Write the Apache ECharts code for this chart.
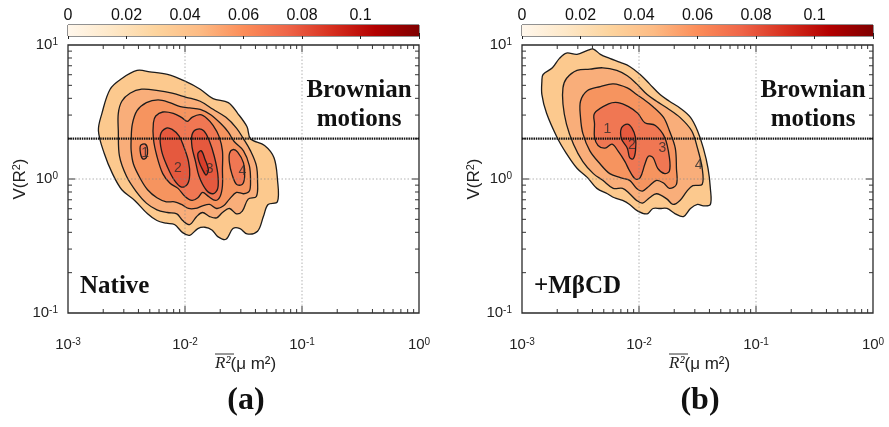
<!DOCTYPE html>
<html>
<head>
<meta charset="utf-8">
<script src="https://cdn.jsdelivr.net/npm/echarts@6/dist/echarts.min.js"></script>
<style>
  html, body { margin: 0; background: #fff; }
  #chart { width: 889px; height: 427px; }
</style>
</head>
<body>
<div id="chart"></div>
<script>
// contour outlines, points are [log10(R2 mean), log10(V(R2))]
// (a) Native
const nativeL1 = [[-2.74,0.36],[-2.71,0.49],[-2.64,0.67],[-2.54,0.75],[-2.41,0.81],[-2.30,0.80],[-2.15,0.78],[-2.00,0.73],[-1.87,0.67],[-1.76,0.60],[-1.63,0.57],[-1.55,0.49],[-1.47,0.39],[-1.44,0.30],[-1.32,0.25],[-1.24,0.16],[-1.21,0.00],[-1.21,-0.17],[-1.29,-0.19],[-1.33,-0.28],[-1.38,-0.39],[-1.47,-0.41],[-1.53,-0.37],[-1.59,-0.37],[-1.65,-0.45],[-1.72,-0.43],[-1.77,-0.38],[-1.83,-0.36],[-1.89,-0.37],[-1.96,-0.42],[-2.02,-0.40],[-2.09,-0.34],[-2.16,-0.33],[-2.24,-0.31],[-2.32,-0.26],[-2.43,-0.16],[-2.54,-0.08],[-2.62,0.04],[-2.69,0.19]];
const nativeL2 = [[-2.57,0.36],[-2.57,0.49],[-2.54,0.58],[-2.47,0.64],[-2.37,0.67],[-2.23,0.66],[-2.11,0.64],[-1.99,0.61],[-1.87,0.58],[-1.76,0.52],[-1.65,0.46],[-1.56,0.38],[-1.50,0.30],[-1.44,0.21],[-1.39,0.10],[-1.38,-0.01],[-1.39,-0.13],[-1.46,-0.15],[-1.51,-0.24],[-1.56,-0.26],[-1.62,-0.22],[-1.68,-0.25],[-1.73,-0.29],[-1.79,-0.28],[-1.85,-0.25],[-1.90,-0.28],[-1.96,-0.34],[-2.02,-0.31],[-2.07,-0.26],[-2.15,-0.25],[-2.24,-0.23],[-2.33,-0.18],[-2.42,-0.09],[-2.50,0.02],[-2.56,0.17]];
const nativeL3 = [[-2.46,0.30],[-2.45,0.41],[-2.41,0.51],[-2.33,0.57],[-2.23,0.59],[-2.13,0.57],[-2.04,0.54],[-1.96,0.53],[-1.87,0.52],[-1.78,0.48],[-1.69,0.41],[-1.63,0.35],[-1.58,0.28],[-1.50,0.21],[-1.45,0.10],[-1.44,-0.01],[-1.45,-0.09],[-1.50,-0.11],[-1.56,-0.10],[-1.62,-0.15],[-1.67,-0.20],[-1.73,-0.22],[-1.79,-0.19],[-1.85,-0.20],[-1.91,-0.22],[-1.97,-0.22],[-2.03,-0.19],[-2.09,-0.17],[-2.16,-0.17],[-2.24,-0.14],[-2.32,-0.08],[-2.38,0.00],[-2.44,0.11],[-2.46,0.21]];
const nativeL4 = [[-2.27,0.30],[-2.27,0.42],[-2.25,0.47],[-2.19,0.50],[-2.10,0.49],[-2.03,0.46],[-1.98,0.43],[-1.94,0.46],[-1.87,0.48],[-1.81,0.45],[-1.76,0.40],[-1.71,0.32],[-1.68,0.21],[-1.68,0.07],[-1.68,-0.05],[-1.70,-0.13],[-1.74,-0.16],[-1.80,-0.13],[-1.85,-0.10],[-1.89,-0.14],[-1.94,-0.16],[-2.00,-0.13],[-2.06,-0.07],[-2.13,-0.03],[-2.19,0.04],[-2.24,0.17]];
const nativeIsland1 = [[-2.38,0.25],[-2.34,0.26],[-2.32,0.22],[-2.33,0.16],[-2.36,0.15],[-2.38,0.19]];
const nativeIsland4 = [[-1.62,0.19],[-1.59,0.22],[-1.55,0.20],[-1.50,0.12],[-1.49,0.02],[-1.51,-0.04],[-1.56,-0.04],[-1.60,0.04],[-1.62,0.12]];
const nativePeak2 = [[-2.21,0.33],[-2.16,0.38],[-2.11,0.37],[-2.05,0.32],[-2.01,0.24],[-1.97,0.13],[-1.96,0.03],[-1.98,-0.04],[-2.03,-0.06],[-2.09,-0.01],[-2.15,0.09],[-2.20,0.21]];
const nativePeak3 = [[-1.94,0.33],[-1.90,0.37],[-1.84,0.36],[-1.79,0.28],[-1.75,0.17],[-1.72,0.04],[-1.72,-0.07],[-1.76,-0.11],[-1.82,-0.08],[-1.88,0.02],[-1.91,0.13],[-1.94,0.24]];
const nativeCore3 = [[-1.89,0.19],[-1.86,0.21],[-1.83,0.15],[-1.80,0.07],[-1.82,0.03],[-1.85,0.07],[-1.88,0.13]];
const nativeLabels = [['1',-2.34,0.19],['2',-2.06,0.08],['3',-1.79,0.07],['4',-1.51,0.06]];

// (b) +MβCD
const mbcdL1 = [[-2.83,0.73],[-2.82,0.78],[-2.74,0.83],[-2.68,0.90],[-2.62,0.94],[-2.53,0.93],[-2.44,0.96],[-2.39,0.97],[-2.33,0.93],[-2.25,0.90],[-2.16,0.87],[-2.08,0.84],[-1.99,0.78],[-1.91,0.71],[-1.82,0.63],[-1.74,0.58],[-1.65,0.53],[-1.56,0.46],[-1.50,0.36],[-1.45,0.23],[-1.41,0.08],[-1.39,-0.07],[-1.39,-0.19],[-1.45,-0.20],[-1.50,-0.19],[-1.56,-0.22],[-1.62,-0.28],[-1.69,-0.26],[-1.76,-0.22],[-1.82,-0.22],[-1.88,-0.22],[-1.93,-0.26],[-2.01,-0.24],[-2.08,-0.19],[-2.14,-0.16],[-2.21,-0.14],[-2.27,-0.11],[-2.36,-0.07],[-2.44,0.01],[-2.53,0.08],[-2.62,0.19],[-2.70,0.31],[-2.79,0.49],[-2.83,0.63]];
const mbcdL2 = [[-2.65,0.68],[-2.62,0.75],[-2.53,0.81],[-2.42,0.82],[-2.31,0.83],[-2.19,0.81],[-2.10,0.77],[-2.02,0.71],[-1.93,0.63],[-1.85,0.58],[-1.76,0.53],[-1.65,0.46],[-1.55,0.36],[-1.50,0.23],[-1.46,0.08],[-1.46,-0.04],[-1.54,-0.05],[-1.59,-0.09],[-1.65,-0.16],[-1.71,-0.19],[-1.76,-0.15],[-1.85,-0.11],[-1.91,-0.14],[-1.97,-0.18],[-2.02,-0.16],[-2.08,-0.11],[-2.14,-0.07],[-2.22,-0.07],[-2.31,-0.01],[-2.39,0.04],[-2.48,0.13],[-2.56,0.26],[-2.62,0.41],[-2.65,0.56]];
const mbcdL3 = [[-2.50,0.58],[-2.44,0.66],[-2.33,0.69],[-2.22,0.71],[-2.10,0.68],[-2.02,0.63],[-1.97,0.60],[-1.88,0.54],[-1.79,0.46],[-1.74,0.36],[-1.69,0.23],[-1.68,0.08],[-1.68,-0.04],[-1.74,-0.07],[-1.79,-0.03],[-1.85,-0.01],[-1.91,-0.05],[-1.97,-0.09],[-2.02,-0.07],[-2.08,-0.01],[-2.16,0.01],[-2.25,0.04],[-2.33,0.11],[-2.42,0.21],[-2.48,0.34],[-2.50,0.46]];
const mbcdL4 = [[-2.38,0.41],[-2.38,0.49],[-2.26,0.56],[-2.18,0.57],[-2.09,0.54],[-2.01,0.49],[-1.95,0.42],[-1.86,0.40],[-1.78,0.31],[-1.74,0.16],[-1.74,0.06],[-1.78,0.04],[-1.84,0.08],[-1.88,0.16],[-1.92,0.17],[-1.95,0.11],[-1.99,0.01],[-2.03,0.00],[-2.08,0.06],[-2.12,0.13],[-2.18,0.21],[-2.23,0.26],[-2.29,0.23],[-2.35,0.25],[-2.38,0.31]];
const mbcdL5 = [[-2.15,0.38],[-2.10,0.41],[-2.06,0.38],[-2.03,0.31],[-2.03,0.21],[-2.05,0.15],[-2.08,0.16],[-2.10,0.23],[-2.15,0.30]];
const mbcdLabels = [['1',-2.27,0.37],['2',-2.06,0.25],['3',-1.80,0.23],['4',-1.49,0.10]];

// axes
const xDecades = [-3, -2, -1, 0];
const yDecades = [-1, 0, 1];
const minorSteps = [2, 3, 4, 5, 6, 7, 8, 9];
const colorTicks = [0, 0.02, 0.04, 0.06, 0.08, 0.1];
const colorMax = 0.12;
const brownianV = 2;

// colours
const levelColors = ['#fcc98e', '#f9ae7a', '#f6945f', '#f07753', '#e5593e', '#d73e2b'];
const orRd = ['#fff7ec', '#fee8c8', '#fdd49e', '#fdbb84', '#fc8d59', '#ef6548', '#d7301f', '#b30000', '#7f0000'];

const nativeContours = [
  { level: 0, pts: nativeL1 },
  { level: 1, pts: nativeL2 },
  { level: 2, pts: nativeL3 },
  { level: 3, pts: nativeL4 },
  { level: 3, pts: nativeIsland1 },
  { level: 3, pts: nativeIsland4 },
  { level: 4, pts: nativePeak2 },
  { level: 4, pts: nativePeak3 },
  { level: 5, pts: nativeCore3 },
];
const mbcdContours = [
  { level: 0, pts: mbcdL1 },
  { level: 1, pts: mbcdL2 },
  { level: 2, pts: mbcdL3 },
  { level: 3, pts: mbcdL4 },
  { level: 4, pts: mbcdL5 },
];

// tick marks for log axes: [value, 0 = x / 1 = y, major]
const tickData = [];
xDecades.forEach((d) => {
  if (d > -3 && d < 0) tickData.push([d, 0, 1]);
  if (d < 0) minorSteps.forEach((m) => tickData.push([d + Math.log10(m), 0, 0]));
});
yDecades.forEach((d) => {
  if (d === 0) tickData.push([d, 1, 1]);
  if (d < 1) minorSteps.forEach((m) => tickData.push([d + Math.log10(m), 1, 0]));
});

const txt = '#222';
const sans = 'Liberation Sans';
const serif = 'Liberation Serif';
const pow10 = (v) => '{b|10}{s|' + v + '}';
const powRich = {
  b: { fontSize: 15, color: txt, fontFamily: sans, verticalAlign: 'bottom' },
  s: { fontSize: 10, color: txt, fontFamily: sans, verticalAlign: 'top' },
};

function contourSeries(contours, idx) {
  return {
    type: 'custom',
    xAxisIndex: idx,
    yAxisIndex: idx,
    silent: true,
    data: contours.map((c, i) => [c.pts[0][0], c.pts[0][1], i]),
    renderItem(params, api) {
      const c = contours[api.value(2)];
      return {
        type: 'polygon',
        shape: { points: c.pts.map((p) => api.coord(p)), smooth: 0.35 },
        style: { fill: levelColors[c.level], stroke: '#1c1c1c', lineWidth: 1.3 },
      };
    },
  };
}

function tickSeries(idx) {
  return {
    type: 'custom',
    xAxisIndex: idx,
    yAxisIndex: idx,
    silent: true,
    z: 5,
    data: tickData,
    renderItem(params, api) {
      const v = api.value(0);
      const kind = api.value(1);
      const major = api.value(2);
      const len = major ? 7 : 4;
      const tick = { stroke: '#333', lineWidth: 1 };
      const grid = { stroke: '#888', lineWidth: 0.8, lineDash: [1.5, 2], opacity: 0.8 };
      const children = [];
      if (kind === 0) {
        const b = api.coord([v, -1]);
        const t = api.coord([v, 1]);
        children.push({ type: 'line', shape: { x1: b[0], y1: b[1], x2: b[0], y2: b[1] - len }, style: tick });
        children.push({ type: 'line', shape: { x1: t[0], y1: t[1], x2: t[0], y2: t[1] + len }, style: tick });
        if (major) children.push({ type: 'line', shape: { x1: b[0], y1: b[1], x2: t[0], y2: t[1] }, style: grid });
      } else {
        const l = api.coord([-3, v]);
        const r = api.coord([0, v]);
        children.push({ type: 'line', shape: { x1: l[0], y1: l[1], x2: l[0] + len, y2: l[1] }, style: tick });
        children.push({ type: 'line', shape: { x1: r[0], y1: r[1], x2: r[0] - len, y2: r[1] }, style: tick });
        if (major) children.push({ type: 'line', shape: { x1: l[0], y1: l[1], x2: r[0], y2: r[1] }, style: grid });
      }
      return { type: 'group', children };
    },
  };
}

function brownianSeries(idx) {
  const y = Math.log10(brownianV);
  return {
    type: 'line',
    xAxisIndex: idx,
    yAxisIndex: idx,
    silent: true,
    z: 6,
    symbol: 'none',
    data: [[-3, y], [0, y]],
    lineStyle: { color: '#111', width: 2.2, type: [1.5, 0.8] },
  };
}

function labelSeries(labels, idx) {
  return {
    type: 'scatter',
    xAxisIndex: idx,
    yAxisIndex: idx,
    silent: true,
    z: 7,
    symbolSize: 1,
    itemStyle: { color: 'rgba(0,0,0,0)' },
    data: labels.map((l) => [l[1], l[2], l[0]]),
    label: { show: true, position: 'inside', formatter: (p) => p.value[2], fontSize: 14, color: '#2a2a2a', fontFamily: sans },
  };
}

function colorbarSeries(xIdx, yIdx) {
  return {
    type: 'custom',
    xAxisIndex: xIdx,
    yAxisIndex: yIdx,
    silent: true,
    data: [[0, 0]],
    renderItem(params, api) {
      const a = api.coord([0, 1]);
      const b = api.coord([colorMax, 0]);
      return {
        type: 'rect',
        shape: { x: a[0], y: a[1], width: b[0] - a[0], height: b[1] - a[1] },
        style: {
          fill: new echarts.graphic.LinearGradient(0, 0, 1, 0, orRd.map((c, i) => ({ offset: i / (orRd.length - 1), color: c }))),
        },
      };
    },
  };
}

function mainX(idx) {
  return {
    gridIndex: idx, type: 'value', min: -3, max: 0, interval: 1,
    axisLine: { show: false }, axisTick: { show: false }, splitLine: { show: false },
    axisLabel: { margin: 24, formatter: pow10, rich: powRich, showMinLabel: true, showMaxLabel: true },
  };
}
function mainY(idx) {
  return {
    gridIndex: idx, type: 'value', min: -1, max: 1, interval: 1,
    axisLine: { show: false }, axisTick: { show: false }, splitLine: { show: false },
    axisLabel: { margin: 10, formatter: pow10, rich: powRich, showMinLabel: true, showMaxLabel: true },
    name: '{n|V(R}{s|2}{n|)}', nameLocation: 'middle', nameGap: 38,
    nameTextStyle: {
      rich: {
        n: { fontSize: 17, color: txt, fontFamily: sans, verticalAlign: 'bottom' },
        s: { fontSize: 11, color: txt, fontFamily: sans, verticalAlign: 'top' },
      },
    },
  };
}
function cbX(idx, top) {
  return {
    gridIndex: idx, type: 'value', min: 0, max: colorMax, interval: 0.02, position: top ? 'top' : 'bottom',
    axisLine: { show: false }, splitLine: { show: false },
    axisTick: { show: true, inside: true, length: 3, lineStyle: { color: '#222' } },
    axisLabel: {
      show: top, margin: 1, fontSize: 16, color: '#111', fontFamily: sans,
      formatter: (v) => (colorTicks.some((t) => Math.abs(t - v) < 1e-9) ? String(v) : ''),
    },
  };
}
function cbY(idx) {
  return { gridIndex: idx, type: 'value', min: 0, max: 1, show: false };
}

function panelText(dx, tag, name) {
  return [
    { type: 'text', x: 359 + dx, y: 105, style: { text: 'Brownian\nmotions', font: 'bold 25px ' + serif, fill: '#111', align: 'center', verticalAlign: 'middle', lineHeight: 29 } },
    { type: 'text', x: 80 + dx, y: 287, style: { text: name, font: 'bold 25px ' + serif, fill: '#111', verticalAlign: 'middle' } },
    { type: 'text', x: 246 + dx, y: 401, style: { text: tag, font: 'bold 32px ' + serif, fill: '#111', align: 'center', verticalAlign: 'middle' } },
    {
      type: 'text', x: 215 + dx, y: 364,
      style: {
        text: '{r|R²}{n|(μ m²)}', verticalAlign: 'middle',
        rich: { r: { fontSize: 17, fontStyle: 'italic', fontFamily: serif, fill: txt }, n: { fontSize: 17, fontFamily: sans, fill: txt } },
      },
    },
    { type: 'line', shape: { x1: 215 + dx, y1: 354, x2: 234 + dx, y2: 354 }, style: { stroke: '#333', lineWidth: 1 } },
  ];
}

const chart = echarts.init(document.getElementById('chart'));
chart.setOption({
  animation: false,
  backgroundColor: '#fff',
  grid: [
    { left: 68, top: 45, width: 351, height: 268, show: true, borderColor: '#2a2a2a', borderWidth: 1.3, backgroundColor: '#fff' },
    { left: 522, top: 45, width: 351, height: 268, show: true, borderColor: '#2a2a2a', borderWidth: 1.3, backgroundColor: '#fff' },
    { left: 68, top: 25, width: 351, height: 11, show: true, borderColor: '#222', borderWidth: 1 },
    { left: 522, top: 25, width: 351, height: 11, show: true, borderColor: '#222', borderWidth: 1 },
  ],
  xAxis: [mainX(0), mainX(1), cbX(2, true), cbX(2, false), cbX(3, true), cbX(3, false)],
  yAxis: [mainY(0), mainY(1), cbY(2), cbY(3)],
  series: [
    contourSeries(nativeContours, 0),
    contourSeries(mbcdContours, 1),
    tickSeries(0),
    tickSeries(1),
    brownianSeries(0),
    brownianSeries(1),
    labelSeries(nativeLabels, 0),
    labelSeries(mbcdLabels, 1),
    colorbarSeries(2, 2),
    colorbarSeries(4, 3),
  ],
  graphic: [...panelText(0, '(a)', 'Native'), ...panelText(454, '(b)', '+MβCD')],
});
</script>
</body>
</html>
